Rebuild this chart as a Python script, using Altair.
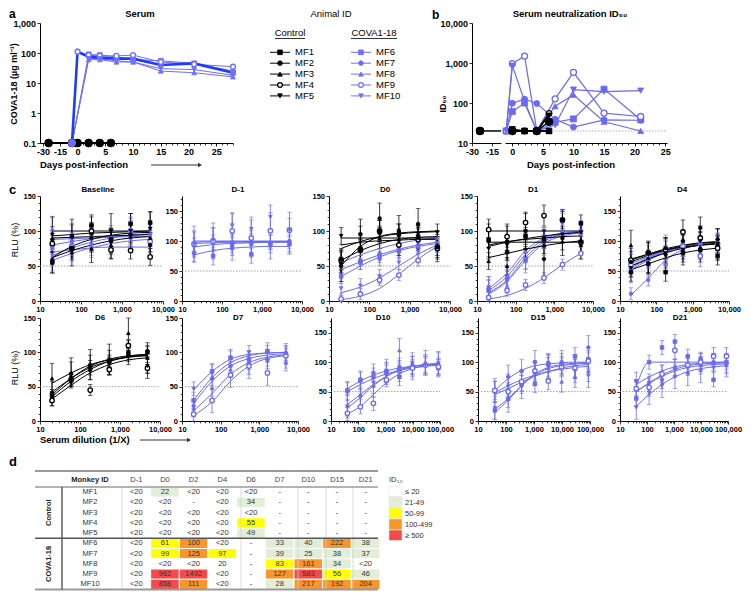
import altair as alt
import pandas as pd

FONT = "Liberation Sans"
W, H = 735, 583
BLUE = "#6A6AF2"
BLUE_A = "#6F6FF7"
BLUE_THICK = "#1E3CFF"
BLACK = "#000000"

CTRL = ["MF1", "MF2", "MF3", "MF4", "MF5"]
COVA = ["MF6", "MF7", "MF8", "MF9", "MF10"]
SHAPE = {"MF1": "square", "MF2": "circle", "MF3": "triangle-up", "MF4": "circle", "MF5": "triangle-down",
         "MF6": "square", "MF7": "circle", "MF8": "triangle-up", "MF9": "circle", "MF10": "triangle-down"}
OPEN = ["MF4", "MF9"]

# ---------------- panel a : serum COVA1-18 (ug/ml) ----------------
A_BASE_DAY = -25
A_CTRL_DAYS = [-1, 0, 2, 4, 6]
A_CTRL_VALUES = [0.1, 0.1, 0.1, 0.1, 0.1]
A_DAYS = [-1, 0, 2, 4, 7, 10, 15, 21, 28]
A_MF6 = [0.1, None, 90, 85, 75, 60, 55, 45, 22]
A_MF7 = [0.1, 115, 75, 70, 65, 60, 40, 45, 25]
A_MF8 = [0.1, None, 60, 60, 50, 50, 25, 22, 16]
A_MF9 = [0.1, 110, 85, 80, 80, 85, 50, 42, 35]
A_MF10 = [0.1, None, 65, 65, 55, 50, 30, 28, 18]
A_MEAN = [0.1, 110, 75, 70, 65, 65, 40, 45, 22]

# ---------------- panel d table (also panel b) ----------------
T_COLS = ["D-1", "D0", "D2", "D4", "D6", "D7", "D10", "D15", "D21"]
B_DAYS = [-1, 0, 2, 4, 6, 7, 10, 15, 21]
T_MF1 = ["<20", "22", "<20", "<20", "<20", "-", "-", "-", "-"]
T_MF2 = ["<20", "<20", "-", "<20", "34", "-", "-", "-", "-"]
T_MF3 = ["<20", "<20", "<20", "<20", "<20", "-", "-", "-", "-"]
T_MF4 = ["<20", "<20", "<20", "<20", "55", "-", "-", "-", "-"]
T_MF5 = ["<20", "<20", "<20", "<20", "49", "-", "-", "-", "-"]
T_MF6 = ["<20", "61", "100", "<20", "-", "33", "40", "222", "38"]
T_MF7 = ["<20", "99", "125", "97", "-", "39", "25", "38", "37"]
T_MF8 = ["<20", "<20", "<20", "20", "-", "83", "161", "34", "<20"]
T_MF9 = ["<20", "962", "1492", "<20", "-", "127", "583", "56", "46"]
T_MF10 = ["<20", "858", "111", "<20", "-", "28", "217", "192", "204"]
TABLE = {"MF1": T_MF1, "MF2": T_MF2, "MF3": T_MF3, "MF4": T_MF4, "MF5": T_MF5,
         "MF6": T_MF6, "MF7": T_MF7, "MF8": T_MF8, "MF9": T_MF9, "MF10": T_MF10}
B_BASE_DAY = -24
B_BASE_VALUE = 20
B_LIMIT = 20
LEG_LABELS = ["\u2264 20", "21-49", "50-99", "100-499", "\u2265 500"]
LEG_COLORS = ["#FFFFFF", "#E2EED8", "#FFFF00", "#F9962B", "#F44A4C"]

# ---------------- panel c : neutralization curves ----------------
DIL6 = [20, 60, 180, 540, 1620, 4860]
DIL8 = [40, 120, 360, 1080, 3240, 9720, 29160, 87480]

BASE_PTS = {"MF1": [55, 75, 108, 88, 110, 112], "MF2": [88, 92, 90, 85, 95, 80],
            "MF3": [60, 70, 75, 80, 92, 90], "MF4": [82, 75, 100, 73, 72, 63],
            "MF5": [95, 92, 95, 100, 100, 103], "MF6": [58, 80, 90, 88, 100, 85],
            "MF7": [75, 85, 92, 90, 90, 95], "MF8": [103, 90, 80, 87, 100, 93],
            "MF9": [80, 78, 90, 88, 100, 85], "MF10": [65, 72, 80, 88, 95, 100]}
BASE_FIT = {"MF1": [62, 78, 88, 94, 97, 98], "MF2": [90, 91, 92, 93, 94, 95],
            "MF3": [62, 72, 80, 86, 90, 92], "MF4": [100, 100, 100, 100, 100, 100],
            "MF5": [93, 95, 97, 98, 99, 100], "MF6": [65, 76, 84, 90, 94, 96],
            "MF7": [80, 85, 89, 92, 94, 95], "MF8": [88, 89, 90, 91, 92, 92],
            "MF9": [70, 73, 76, 77, 77, 77], "MF10": [58, 68, 76, 82, 86, 88]}
BASE_ERR = {"MF1": 15, "MF2": 18, "MF3": 20, "MF4": 12, "MF5": 25,
            "MF6": 15, "MF7": 12, "MF8": 18, "MF9": 20, "MF10": 15}

DM1_PTS = {"MF6": [80, 75, 95, 78, 95, 95], "MF7": [95, 100, 90, 95, 92, 100],
           "MF8": [93, 98, 88, 100, 98, 95], "MF9": [95, 100, 117, 105, 117, 118],
           "MF10": [95, 102, 126, 120, 140, 118]}
DM1_FIT = {"MF6": [77, 84, 88, 90, 91, 91], "MF7": [100, 100, 100, 100, 100, 100],
           "MF8": [90, 94, 96, 97, 98, 98], "MF9": [96, 97, 98, 98, 98, 98],
           "MF10": [98, 99, 99, 99, 99, 99]}
DM1_ERR = {"MF6": 15, "MF7": 22, "MF8": 12, "MF9": 30, "MF10": 20}

D0_PTS = {"MF1": [60, 75, 100, 95, 92, 77], "MF2": [50, 95, 118, 100, 110, 78],
          "MF3": [55, 72, 90, 88, 90, 80], "MF4": [58, 73, 100, 80, 88, 75],
          "MF5": [93, 95, 95, 98, 96, 98], "MF6": [35, 55, 65, 72, 78, 80],
          "MF7": [50, 55, 60, 70, 78, 82], "MF8": [50, 60, 70, 80, 85, 90],
          "MF9": [3, 10, 30, 37, 58, 77], "MF10": [18, 22, 35, 55, 70, 82]}
D0_FIT = {"MF1": [75, 85, 92, 96, 98, 99], "MF2": [50, 78, 92, 97, 99, 100],
          "MF3": [58, 72, 82, 88, 91, 92], "MF4": [80, 84, 86, 87, 88, 88],
          "MF5": [90, 90, 90, 90, 90, 90], "MF6": [35, 50, 63, 72, 78, 82],
          "MF7": [45, 56, 66, 74, 80, 84], "MF8": [55, 66, 75, 82, 87, 90],
          "MF9": [2, 7, 18, 38, 60, 78], "MF10": [12, 20, 33, 50, 67, 80]}
D0_ERR = {"MF1": 15, "MF2": 22, "MF3": 15, "MF4": 15, "MF5": 12,
          "MF6": 10, "MF7": 10, "MF8": 10, "MF9": 8, "MF10": 10}

D1_PTS = {"MF1": [88, 70, 93, 88, 116, 111], "MF2": [85, 85, 100, 60, 90, 85],
          "MF3": [57, 50, 75, 80, 85, 80], "MF4": [102, 92, 112, 122, 116, 84],
          "MF5": [75, 80, 90, 90, 95, 98], "MF6": [15, 35, 60, 90, 115, 100],
          "MF7": [18, 30, 58, 88, 100, 95], "MF8": [20, 35, 70, 90, 115, 98],
          "MF9": [5, 15, 23, 33, 52, 68], "MF10": [20, 30, 55, 80, 110, 98]}
D1_FIT = {"MF1": [84, 84, 84, 84, 84, 84], "MF2": [80, 85, 88, 90, 92, 93],
          "MF3": [62, 68, 74, 79, 83, 86], "MF4": [100, 100, 100, 100, 100, 100],
          "MF5": [78, 84, 89, 93, 96, 98], "MF6": [12, 30, 62, 85, 95, 98],
          "MF7": [15, 35, 67, 88, 96, 99], "MF8": [18, 40, 72, 90, 97, 99],
          "MF9": [3, 8, 18, 33, 52, 68], "MF10": [10, 28, 58, 82, 93, 97]}
D1_ERR = {"MF1": 12, "MF2": 25, "MF3": 12, "MF4": 15, "MF5": 12,
          "MF6": 15, "MF7": 12, "MF8": 15, "MF9": 8, "MF10": 15}

D4_PTS = {"MF1": [48, 62, 48, 80, 85, 75], "MF2": [65, 80, 88, 100, 122, 103],
          "MF3": [93, 72, 80, 85, 90, 95], "MF4": [68, 80, 85, 115, 105, 88],
          "MF5": [55, 60, 75, 85, 100, 95], "MF6": [55, 70, 85, 90, 95, 95],
          "MF7": [12, 35, 60, 85, 95, 98], "MF8": [65, 70, 85, 95, 100, 98],
          "MF9": [60, 75, 85, 92, 75, 95], "MF10": [50, 60, 90, 95, 100, 100]}
D4_FIT = {"MF1": [52, 62, 72, 80, 85, 88], "MF2": [68, 78, 87, 93, 97, 99],
          "MF3": [70, 78, 85, 90, 93, 95], "MF4": [65, 76, 85, 92, 96, 98],
          "MF5": [58, 70, 80, 88, 93, 96], "MF6": [55, 70, 82, 90, 94, 96],
          "MF7": [10, 38, 68, 86, 94, 97], "MF8": [62, 74, 84, 90, 94, 96],
          "MF9": [58, 72, 83, 90, 94, 96], "MF10": [52, 68, 81, 89, 94, 96]}
D4_ERR = {"MF1": 15, "MF2": 18, "MF3": 25, "MF4": 20, "MF5": 15,
          "MF6": 15, "MF7": 10, "MF8": 15, "MF9": 18, "MF10": 20}

D6_PTS = {"MF1": [38, 62, 80, 88, 98, 100], "MF2": [35, 58, 75, 85, 95, 102],
          "MF3": [62, 70, 82, 90, 128, 92], "MF4": [30, 60, 45, 75, 110, 77],
          "MF5": [40, 68, 78, 85, 100, 80]}
D6_FIT = {"MF1": [38, 62, 80, 90, 95, 97], "MF2": [35, 58, 75, 87, 94, 97],
          "MF3": [55, 70, 82, 89, 93, 95], "MF4": [32, 52, 70, 82, 89, 92],
          "MF5": [42, 62, 78, 87, 93, 96]}
D6_ERR = {"MF1": 8, "MF2": 8, "MF3": 22, "MF4": 8, "MF5": 18}

D7_PTS = {"MF6": [30, 72, 92, 90, 102, 98], "MF7": [22, 62, 80, 85, 90, 95],
          "MF8": [18, 48, 75, 80, 88, 85], "MF9": [10, 30, 67, 80, 70, 95],
          "MF10": [47, 72, 92, 100, 100, 98]}
D7_FIT = {"MF6": [30, 63, 85, 95, 99, 100], "MF7": [25, 58, 80, 91, 96, 98],
          "MF8": [15, 40, 68, 85, 93, 96], "MF9": [8, 28, 58, 80, 91, 95],
          "MF10": [45, 72, 90, 97, 99, 100]}
D7_ERR = {"MF6": 12, "MF7": 10, "MF8": 12, "MF9": 18, "MF10": 10}

D10_PTS = {"MF6": [52, 70, 75, 85, 75, 90, 95, 90], "MF7": [50, 68, 82, 80, 92, 95, 95, 92],
           "MF8": [25, 45, 60, 85, 120, 90, 100, 98], "MF9": [13, 24, 30, 70, 85, 90, 95, 92],
           "MF10": [25, 40, 65, 80, 85, 98, 95, 98]}
D10_FIT = {"MF6": [50, 62, 72, 80, 86, 90, 93, 95], "MF7": [55, 68, 78, 85, 90, 93, 95, 96],
           "MF8": [28, 45, 62, 76, 86, 92, 96, 97], "MF9": [12, 25, 45, 65, 80, 89, 94, 96],
           "MF10": [22, 40, 60, 76, 87, 93, 96, 98]}
D10_ERR = {"MF6": 15, "MF7": 15, "MF8": 20, "MF9": 12, "MF10": 18}

D15_PTS = {"MF6": [18, 38, 62, 63, 98, 95, 110, 105], "MF7": [52, 75, 85, 100, 95, 100, 92, 125],
           "MF8": [50, 62, 68, 85, 90, 67, 75, 85], "MF9": [52, 50, 67, 85, 68, 92, 90, 102],
           "MF10": [22, 35, 58, 80, 92, 95, 85, 77]}
D15_FIT = {"MF6": [15, 35, 60, 80, 91, 96, 98, 99], "MF7": [52, 72, 86, 94, 97, 99, 100, 100],
           "MF8": [48, 60, 70, 78, 84, 88, 91, 93], "MF9": [45, 55, 66, 76, 84, 90, 94, 96],
           "MF10": [20, 38, 60, 78, 89, 94, 97, 98]}
D15_ERR = {"MF6": 15, "MF7": 20, "MF8": 18, "MF9": 15, "MF10": 20}

D21_PTS = {"MF6": [38, 100, 125, 135, 110, 105, 70, 100], "MF7": [68, 65, 70, 90, 92, 100, 100, 98],
           "MF8": [55, 60, 80, 90, 95, 95, 100, 95], "MF9": [55, 57, 80, 120, 95, 100, 110, 110],
           "MF10": [23, 48, 60, 75, 80, 85, 90, 95]}
D21_FIT = {"MF6": [58, 100, 100, 100, 100, 100, 100, 100], "MF7": [62, 75, 85, 92, 96, 98, 99, 100],
           "MF8": [50, 64, 76, 85, 91, 94, 96, 97], "MF9": [50, 65, 78, 88, 94, 97, 98, 99],
           "MF10": [25, 45, 62, 75, 84, 89, 92, 94]}
D21_ERR = {"MF6": 12, "MF7": 15, "MF8": 15, "MF9": 15, "MF10": 20}


# ======================= helpers =======================
def P(v):
    return v - 8


def xaxis(yb, values, size=7.5, labels=True, tick=3.0, domain=True, fmt=",", expr=None):
    d = dict(orient="bottom", offset=P(yb) - H, values=values, title=None, grid=False,
             domain=domain, labels=labels, ticks=True, tickSize=tick, tickWidth=0.8,
             domainWidth=1, tickColor="black", domainColor="black", labelColor="black",
             labelFont=FONT, labelFontSize=size, labelFontWeight="bold", labelFlush=False,
             labelOverlap=False, labelPadding=1.5)
    if fmt:
        d["format"] = fmt
    if expr:
        d["labelExpr"] = expr
    return alt.Axis(**d)


def yaxis(xl, values, size=7.5, labels=True, tick=3.0, domain=True, fmt=",", expr=None):
    d = dict(orient="left", offset=-P(xl), values=values, title=None, grid=False,
             domain=domain, labels=labels, ticks=True, tickSize=tick, tickWidth=0.8,
             domainWidth=1, tickColor="black", domainColor="black", labelColor="black",
             labelFont=FONT, labelFontSize=size, labelFontWeight="bold", labelFlush=False,
             labelOverlap=False, labelPadding=1.5)
    if fmt:
        d["format"] = fmt
    if expr:
        d["labelExpr"] = expr
    return alt.Axis(**d)


def style(animal, color):
    is_open = animal in OPEN
    return dict(shape=SHAPE[animal], stroke=color, fill="white" if is_open else color,
                sw=1.3 if is_open else 0.8)


def points(df, xs, ys, xf, yf):
    return alt.Chart(df).mark_point(opacity=1).encode(
        x=alt.X(f"{xf}:Q", scale=xs, axis=None),
        y=alt.Y(f"{yf}:Q", scale=ys, axis=None),
        shape=alt.Shape("shape:N", scale=None),
        fill=alt.Fill("fill:N", scale=None),
        stroke=alt.Stroke("stroke:N", scale=None),
        size=alt.Size("sz:Q", scale=None),
        strokeWidth=alt.StrokeWidth("sw:Q", scale=None))


def points_split(df, xs, ys, xf, yf):
    """draw the filled-circle animal (MF2) in its own layer on top of the others"""
    top = df[df.animal == "MF2"]
    rest = df[df.animal != "MF2"]
    out = [points(rest, xs, ys, xf, yf)]
    if len(top):
        out.append(points(top, xs, ys, xf, yf))
    return out


def lines(df, xs, ys, xf, yf, width, interp="linear"):
    return alt.Chart(df).mark_line(strokeWidth=width, interpolate=interp).encode(
        x=alt.X(f"{xf}:Q", scale=xs, axis=None),
        y=alt.Y(f"{yf}:Q", scale=ys, axis=None),
        detail="animal:N",
        color=alt.Color("stroke:N", scale=None))


def txt(items, size, bold=False, align="center", angle=0, baseline="middle", color="black"):
    df = pd.DataFrame({"t": [i[0] for i in items], "x": [P(i[1]) for i in items],
                       "y": [P(i[2]) for i in items]})
    m = dict(font=FONT, fontSize=size, fontWeight="bold" if bold else "normal",
             align=align, baseline=baseline, color=color)
    if angle:
        m["angle"] = angle
    return alt.Chart(df).mark_text(**m).encode(
        x=alt.X("x:Q", scale=None, axis=None), y=alt.Y("y:Q", scale=None, axis=None), text="t:N")


def segs(items, color, width, dash=None):
    df = pd.DataFrame({"x": [P(s[0]) for s in items], "y": [P(s[1]) for s in items],
                       "x2": [P(s[2]) for s in items], "y2": [P(s[3]) for s in items]})
    m = dict(color=color, strokeWidth=width)
    if dash:
        m["strokeDash"] = dash
    return alt.Chart(df).mark_rule(**m).encode(
        x=alt.X("x:Q", scale=None, axis=None), y=alt.Y("y:Q", scale=None, axis=None),
        x2="x2:Q", y2="y2:Q")


def syms(items, size):
    rows = []
    for a, x, y, color in items:
        s = style(a, color)
        rows.append(dict(x=P(x), y=P(y), sz=size, **s))
    df = pd.DataFrame(rows)
    return alt.Chart(df).mark_point(opacity=1).encode(
        x=alt.X("x:Q", scale=None, axis=None), y=alt.Y("y:Q", scale=None, axis=None),
        shape=alt.Shape("shape:N", scale=None), fill=alt.Fill("fill:N", scale=None),
        stroke=alt.Stroke("stroke:N", scale=None), size=alt.Size("sz:Q", scale=None),
        strokeWidth=alt.StrokeWidth("sw:Q", scale=None))


CTRL_DRAW = ["MF4", "MF3", "MF1", "MF5", "MF2"]
layers = []

# ======================= panel a =======================
ya = alt.Scale(type="log", domain=[0.1, 1000], range=[P(143), P(23)], nice=False)
xaL = alt.Scale(type="linear", domain=[-32.6, -7.9], range=[P(40), P(68)], nice=False, zero=False)
xaR = alt.Scale(type="linear", domain=[-1, 28], range=[P(72), P(233)], nice=False, zero=False)

base_a = pd.DataFrame({"d": [A_BASE_DAY], "v": [A_CTRL_VALUES[0]]})
layers.append(alt.Chart(base_a).mark_rule(color=BLACK, strokeWidth=2).encode(
    x=alt.X("d:Q", scale=xaL, axis=xaxis(143, [-30, -15], size=9, expr="'' + datum.value")),
    x2=alt.value(P(68)),
    y=alt.Y("v:Q", scale=ya, axis=yaxis(40, [0.1, 1, 10, 100, 1000], size=9))))
rows = []
for a in COVA + CTRL_DRAW:
    col = BLUE_A if a in COVA else BLACK
    sz = 26 if a in COVA else (62 if a == "MF2" else 30)
    rows.append(dict(animal=a, d=A_BASE_DAY, v=A_CTRL_VALUES[0], sz=sz, **style(a, col)))
layers.extend(points_split(pd.DataFrame(rows), xaL, ya, "d", "v"))

ctrl_rows = []
for a in CTRL_DRAW:
    for d, v in zip(A_CTRL_DAYS, A_CTRL_VALUES):
        ctrl_rows.append(dict(animal=a, d=d, v=v, sz=62 if a == "MF2" else 30, **style(a, BLACK)))
ctrl_df = pd.DataFrame(ctrl_rows)
layers.append(alt.Chart(pd.DataFrame({"d": [0], "v": [0.1]})).mark_point(opacity=0).encode(
    x=alt.X("d:Q", scale=xaR, axis=xaxis(143, list(range(0, 29)), labels=False, tick=2, domain=False)),
    y=alt.Y("v:Q", scale=ya, axis=None)))
cova_rows = []
for a, vals in zip(COVA, [A_MF6, A_MF7, A_MF8, A_MF9, A_MF10]):
    for d, v in zip(A_DAYS, vals):
        if v is not None:
            cova_rows.append(dict(animal=a, d=d, v=v, sz=24, **style(a, BLUE_A)))
cova_df = pd.DataFrame(cova_rows)
layers.append(alt.Chart(cova_df).mark_line(strokeWidth=1, color=BLUE_A).encode(
    x=alt.X("d:Q", scale=xaR, axis=xaxis(143, [0, 5, 10, 15, 20, 25], size=9)),
    y=alt.Y("v:Q", scale=ya, axis=None), detail="animal:N"))
mean_df = pd.DataFrame({"d": A_DAYS, "v": A_MEAN})
layers.append(alt.Chart(mean_df).mark_line(strokeWidth=2.6, color=BLUE_THICK).encode(
    x=alt.X("d:Q", scale=xaR, axis=None), y=alt.Y("v:Q", scale=ya, axis=None)))
layers.append(points(cova_df[cova_df.d > -1], xaR, ya, "d", "v"))
layers.append(alt.Chart(ctrl_df).mark_line(strokeWidth=2, color=BLACK).encode(
    x=alt.X("d:Q", scale=xaR, axis=None), y=alt.Y("v:Q", scale=ya, axis=None), detail="animal:N"))
layers.extend(points_split(ctrl_df, xaR, ya, "d", "v"))
first_blue = cova_df[cova_df.d == -1].assign(sz=40, fill=BLUE_A, shape="circle")
layers.append(points(first_blue, xaR, ya, "d", "v"))


# ======================= panel b =======================
def parse(s):
    if s == "-":
        return None
    if s.startswith("<"):
        return B_LIMIT
    return float(s)


yb_s = alt.Scale(type="log", domain=[10, 10000], range=[P(143), P(23)], nice=False)
xbL = alt.Scale(type="linear", domain=[-30, -8.25], range=[P(472), P(501)], nice=False, zero=False)
xbR = alt.Scale(type="linear", domain=[-1.2, 25.3], range=[P(505), P(667)], nice=False, zero=False)

layers.append(alt.Chart(pd.DataFrame({"d": [B_BASE_DAY], "v": [B_BASE_VALUE]})).mark_rule(
    color=BLACK, strokeWidth=1.5).encode(
    x=alt.X("d:Q", scale=xbL, axis=xaxis(143, [-30, -15], size=9, expr="'' + datum.value")),
    x2=alt.value(P(501)),
    y=alt.Y("v:Q", scale=yb_s, axis=yaxis(472, [10, 100, 1000, 10000], size=9))))
rows = []
for a in COVA + CTRL_DRAW:
    col = BLUE if a in COVA else BLACK
    sz = 36 if a in COVA else (62 if a == "MF2" else 32)
    rows.append(dict(animal=a, d=B_BASE_DAY, v=B_BASE_VALUE, sz=sz, **style(a, col)))
layers.extend(points_split(pd.DataFrame(rows), xbL, yb_s, "d", "v"))

layers.append(alt.Chart(pd.DataFrame({"d": [-1.2], "d2": [25.3], "v": [B_LIMIT]})).mark_rule(
    color="#999999", strokeDash=[1.5, 1.5], strokeWidth=0.8).encode(
    x=alt.X("d:Q", scale=xbR, axis=xaxis(143, [0, 5, 10, 15, 20, 25], size=9)), x2="d2:Q",
    y=alt.Y("v:Q", scale=yb_s, axis=None)))
layers.append(alt.Chart(pd.DataFrame({"d": [0], "v": [20]})).mark_point(opacity=0).encode(
    x=alt.X("d:Q", scale=xbR, axis=xaxis(143, list(range(0, 26)), labels=False, tick=2, domain=False)),
    y=alt.Y("v:Q", scale=yb_s, axis=None)))
b_cova, b_ctrl = [], []
for a in COVA:
    for d, s in zip(B_DAYS, TABLE[a]):
        v = parse(s)
        if v is not None:
            b_cova.append(dict(animal=a, d=d, v=v, sz=36, **style(a, BLUE)))
for a in CTRL_DRAW:
    for d, s in zip(B_DAYS[1:], TABLE[a][1:]):
        v = parse(s)
        if v is not None:
            b_ctrl.append(dict(animal=a, d=d, v=v, sz=62 if a == "MF2" else 32, **style(a, BLACK)))
b_cova = pd.DataFrame(b_cova)
b_ctrl = pd.DataFrame(b_ctrl)
layers.append(lines(b_cova, xbR, yb_s, "d", "v", 1.2))
layers.append(lines(b_ctrl, xbR, yb_s, "d", "v", 1.5))
layers.append(points(b_cova, xbR, yb_s, "d", "v"))
layers.extend(points_split(b_ctrl, xbR, yb_s, "d", "v"))


# ======================= panel c =======================
def panel_c(pts, fit, err, dil, x0, x1, yb, yt, ymax, xmax):
    xs = alt.Scale(type="log", domain=[10, xmax], range=[P(x0), P(x1)], nice=False)
    ys = alt.Scale(type="linear", domain=[0, ymax], range=[P(yb), P(yt)], nice=False, zero=False)
    decs = [10, 100, 1000, 10000] + ([100000] if xmax > 10000 else [])
    minors = [m * d for d in decs[:-1] for m in range(2, 10)]
    ymin = [v for v in range(10, ymax, 10) if v % 50]
    ref = pd.DataFrame({"x": [10], "x2": [xmax], "y": [50]})
    out = [alt.Chart(ref).mark_rule(color="#8a8a8a", strokeDash=[1.5, 1.5], strokeWidth=0.8).encode(
        x=alt.X("x:Q", scale=xs, axis=xaxis(yb, decs)), x2="x2:Q",
        y=alt.Y("y:Q", scale=ys, axis=yaxis(x0, [0, 50, 100, 150], fmt=None, expr="'' + datum.value"))),
        alt.Chart(ref).mark_point(opacity=0).encode(
        x=alt.X("x:Q", scale=xs, axis=xaxis(yb, minors, labels=False, tick=1.8, domain=False)),
        y=alt.Y("y:Q", scale=ys, axis=yaxis(x0, ymin, labels=False, tick=1.8, domain=False, fmt=None)))]
    animals = [a for a in COVA + CTRL_DRAW if a in pts]
    rows, caps = [], []
    for a in animals:
        col = BLUE if a in COVA else BLACK
        st = style(a, col)
        for d, v, f in zip(dil, pts[a], fit[a]):
            lo, hi = max(v - err[a], 0), v + err[a]
            rows.append(dict(animal=a, dil=d, v=v, f=f, lo=lo, hi=hi,
                             sz=20 if a in OPEN else 13, **st))
            caps.append(dict(dil=d, e=lo, stroke=col))
            caps.append(dict(dil=d, e=hi, stroke=col))
    df = pd.DataFrame(rows)
    cdf = pd.DataFrame(caps)
    out.append(alt.Chart(df).mark_rule(strokeWidth=0.8).encode(
        x=alt.X("dil:Q", scale=xs, axis=None), y=alt.Y("lo:Q", scale=ys, axis=None), y2="hi:Q",
        color=alt.Color("stroke:N", scale=None)))
    out.append(alt.Chart(cdf).mark_tick(orient="horizontal", size=4.5, thickness=0.8).encode(
        x=alt.X("dil:Q", scale=xs, axis=None), y=alt.Y("e:Q", scale=ys, axis=None),
        color=alt.Color("stroke:N", scale=None)))
    out.append(lines(df, xs, ys, "dil", "f", 1, "monotone"))
    out.append(points(df, xs, ys, "dil", "v"))
    return out


PANELS = [
    (BASE_PTS, BASE_FIT, BASE_ERR, DIL6, 40, 163, 301, 196, 150, 10000),
    (DM1_PTS, DM1_FIT, DM1_ERR, DIL6, 182, 302, 301, 196, 175, 10000),
    (D0_PTS, D0_FIT, D0_ERR, DIL6, 329, 450, 301, 196, 150, 10000),
    (D1_PTS, D1_FIT, D1_ERR, DIL6, 477, 593, 301, 196, 150, 10000),
    (D4_PTS, D4_FIT, D4_ERR, DIL6, 620, 729, 301, 196, 175, 10000),
    (D6_PTS, D6_FIT, D6_ERR, DIL6, 40, 160, 421, 318, 150, 10000),
    (D7_PTS, D7_FIT, D7_ERR, DIL6, 182, 298, 421, 318, 150, 10000),
    (D10_PTS, D10_FIT, D10_ERR, DIL8, 331, 440, 421, 318, 175, 100000),
    (D15_PTS, D15_FIT, D15_ERR, DIL8, 478, 590, 421, 318, 175, 100000),
    (D21_PTS, D21_FIT, D21_ERR, DIL8, 620, 728, 421, 318, 175, 100000),
]
for p in PANELS:
    layers.extend(panel_c(*p))

# ======================= panel d : table =======================
ROWS = CTRL + COVA
TB_TOP, TB_HEAD, TB_BOT = 471, 487, 589.5
SEP = TB_HEAD + 5 * (TB_BOT - TB_HEAD) / 10
xband = alt.Scale(type="band", domain=T_COLS, range=[P(122), P(380)], paddingInner=0, paddingOuter=0)
yband = alt.Scale(type="band", domain=ROWS, range=[P(TB_HEAD), P(TB_BOT)], paddingInner=0, paddingOuter=0)


def cell_color(s):
    if s in ("-",) or s.startswith("<"):
        return LEG_COLORS[0]
    v = float(s)
    if v <= 20:
        return LEG_COLORS[0]
    if v < 50:
        return LEG_COLORS[1]
    if v < 100:
        return LEG_COLORS[2]
    if v < 500:
        return LEG_COLORS[3]
    return LEG_COLORS[4]


cells = []
for r in ROWS:
    for c, s in zip(T_COLS, TABLE[r]):
        cells.append(dict(row=r, col=c, val=s, fill=cell_color(s)))
cells = pd.DataFrame(cells)
layers.append(alt.Chart(cells).mark_rect(stroke="white", strokeWidth=1).encode(
    x=alt.X("col:N", scale=xband, axis=None), y=alt.Y("row:N", scale=yband, axis=None),
    fill=alt.Fill("fill:N", scale=None)))
layers.append(alt.Chart(cells).mark_text(font=FONT, fontSize=7.5, color="#333333").encode(
    x=alt.X("col:N", scale=xband, axis=None), y=alt.Y("row:N", scale=yband, axis=None), text="val:N"))
layers.append(alt.Chart(pd.DataFrame({"row": ROWS})).mark_text(font=FONT, fontSize=7.5, color="#333333").encode(
    x=alt.value(P(90)), y=alt.Y("row:N", scale=yband, axis=None), text="row:N"))
layers.append(alt.Chart(pd.DataFrame({"col": T_COLS})).mark_text(font=FONT, fontSize=7.5, color="#444444").encode(
    x=alt.X("col:N", scale=xband, axis=None), y=alt.value(P(TB_TOP + 8.5)), text="col:N"))

layers.append(segs([(x, TB_HEAD, x, TB_BOT) for x in (122, 241, 298, 326, 353)], "#d0d0d0", 0.8))
layers.append(segs([(35, TB_TOP, 378, TB_TOP), (35, TB_BOT, 378, TB_BOT)], "#9a9a9a", 2))
layers.append(segs([(35, TB_HEAD, 378, TB_HEAD)], "#9a9a9a", 1.3))
layers.append(segs([(35, SEP, 378, SEP), (62, TB_HEAD, 62, TB_BOT)], "#555555", 1.4))

leg_rows = []
for i, (lab, colr) in enumerate(zip(LEG_LABELS, LEG_COLORS)):
    leg_rows.append(dict(x=P(389), x2=P(402), y=P(486 + 11 * i), y2=P(496.5 + 11 * i), fill=colr))
layers.append(alt.Chart(pd.DataFrame(leg_rows)).mark_rect(stroke="#e4e4e4", strokeWidth=0.6).encode(
    x=alt.X("x:Q", scale=None, axis=None), x2="x2:Q", y=alt.Y("y:Q", scale=None, axis=None), y2="y2:Q",
    fill=alt.Fill("fill:N", scale=None)))
layers.append(txt([(lab, 405, 491.5 + 11 * i) for i, lab in enumerate(LEG_LABELS)], 7.5,
                  align="left", color="#333333"))
layers.append(txt([("ID\u2085\u2080", 389, TB_TOP + 9)], 7.5, align="left", color="#333333"))
layers.append(txt([("Monkey ID", 90, TB_TOP + 8.5)], 7.5, bold=True, color="#222222"))
layers.append(txt([("Control", 49, (TB_HEAD + SEP) / 2), ("COVA1-18", 49, (SEP + TB_BOT) / 2)], 7.5,
                  bold=True, angle=270, color="#222222"))

# ======================= legend of panels a/b =======================
ly = [52.3, 63.2, 74.1, 85.0, 95.9]
layers.append(segs([(270, y, 290, y) for y in ly], BLACK, 1))
layers.append(segs([(351, y, 371, y) for y in ly], BLUE_A, 1))
layers.append(syms([(a, 280, y, BLACK) for a, y in zip(CTRL, ly)], 22))
layers.append(syms([(a, 361, y, BLUE_A) for a, y in zip(COVA, ly)], 22))
layers.append(txt([(a, 295, y) for a, y in zip(CTRL, ly)] + [(a, 376, y) for a, y in zip(COVA, ly)],
                  9.5, align="left"))
layers.append(txt([("Control", 290, 33), ("COVA1-18", 374, 33), ("Animal ID", 331, 13.5)], 9.5))
layers.append(segs([(275, 38.5, 305, 38.5), (351, 38.5, 397, 38.5)], BLACK, 0.8))

# ======================= annotations =======================
layers.append(txt([("a", 9, 18), ("b", 432, 18.5)], 12, bold=True, align="left", baseline="alphabetic"))
layers.append(txt([("c", 9, 194), ("d", 9, 466)], 13, bold=True, align="left", baseline="alphabetic"))
layers.append(txt([("Serum", 140, 13.5), ("Serum neutralization ID\u2085\u2080", 570, 13.5)], 9.5, bold=True))
layers.append(txt([("Days post-infection", 40, 165), ("Serum dilution (1/X)", 40, 440)], 9.5,
                  bold=True, align="left"))
layers.append(txt([("Days post-infection", 571, 164.5)], 9.5, bold=True))
layers.append(txt([("COVA1-18 (\u00b5g ml\u207b\u00b9)", 14, 84), ("ID\u2085\u2080", 443, 104)], 9,
                  bold=True, angle=270))
layers.append(txt([("RLU (%)", 15, 240), ("RLU (%)", 15, 368)], 9, angle=270))
layers.append(txt([("Baseline", 98, 190), ("D-1", 238, 190), ("D0", 385, 190), ("D1", 533, 190),
                   ("D4", 682, 190), ("D6", 100, 318), ("D7", 238, 318), ("D10", 383, 318),
                   ("D15", 538, 318), ("D21", 680, 318)], 8, bold=True))
# arrows
layers.append(segs([(151, 165, 198, 165), (140, 440, 187, 440)], "#333333", 1))
arrow_df = pd.DataFrame({"x": [P(200), P(189)], "y": [P(165), P(440)]})
layers.append(alt.Chart(arrow_df).mark_point(shape="triangle-right", filled=True, color="#333333",
                                             size=22, opacity=1).encode(
    x=alt.X("x:Q", scale=None, axis=None), y=alt.Y("y:Q", scale=None, axis=None)))

chart = alt.layer(*layers).resolve_scale(x="independent", y="independent").properties(
    width=W, height=H, padding=0, autosize=alt.AutoSizeParams(type="none"), background="white"
).configure_view(stroke="transparent")

chart.save("out.html", embed_options={"renderer": "svg", "actions": False})
